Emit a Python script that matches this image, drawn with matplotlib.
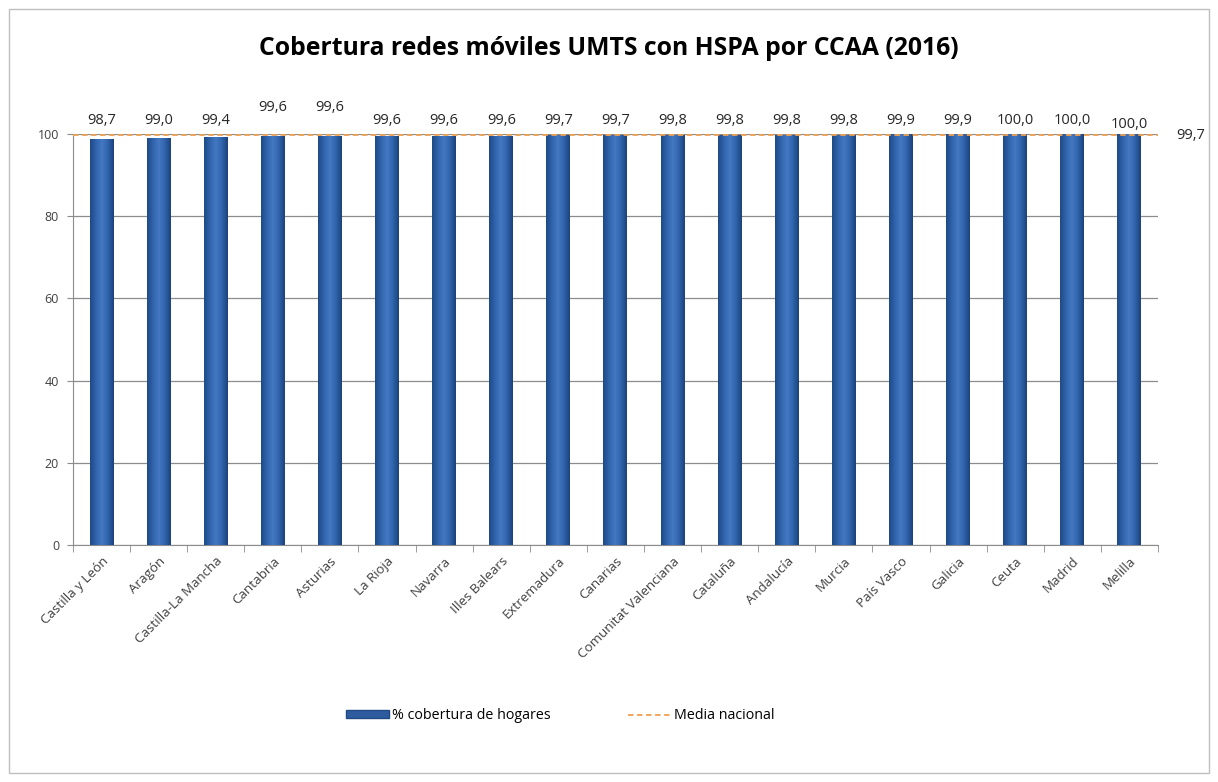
import matplotlib
matplotlib.use("Agg")
import matplotlib.pyplot as plt
import numpy as np
from matplotlib.patches import Rectangle
from matplotlib.lines import Line2D
from matplotlib.colors import LinearSegmentedColormap

plt.rcParams['font.family'] = ['Open Sans', 'DejaVu Sans']

regions = ["Castilla y León", "Aragón", "Castilla-La Mancha", "Cantabria", "Asturias",
           "La Rioja", "Navarra", "Illes Balears", "Extremadura", "Canarias",
           "Comunitat Valenciana", "Cataluña", "Andalucía", "Murcia", "País Vasco",
           "Galicia", "Ceuta", "Madrid", "Melilla"]
coverage = [98.7, 99.0, 99.4, 99.6, 99.6, 99.6, 99.6, 99.6, 99.7, 99.7,
            99.8, 99.8, 99.8, 99.8, 99.9, 99.9, 100.0, 100.0, 100.0]
national_mean = 99.7
yticks = [0, 20, 40, 60, 80, 100]

fig = plt.figure(figsize=(12.18, 7.82), dpi=100)
fig.patch.set_facecolor("white")
fig.add_artist(Rectangle((0.007, 0.012), 0.986, 0.977, transform=fig.transFigure,
                         fill=False, edgecolor="#BFBFBF", linewidth=1.0))

ax = fig.add_axes([0.0599, 0.3031, 0.8908, 0.5255])
x = np.arange(len(regions))

bar_cmap = LinearSegmentedColormap.from_list(
    "cyl", ["#1F4A86", "#3064AC", "#4479C2", "#3064AC", "#1C437C"])
grad = np.linspace(0, 1, 64).reshape(1, -1)

bars = ax.bar(x, coverage, width=0.42, color="#2F5C9E", zorder=3, linewidth=0)
for b in bars:
    im = ax.imshow(grad, cmap=bar_cmap, aspect="auto", zorder=3.5,
                   extent=(b.get_x(), b.get_x() + b.get_width(), 0, b.get_height()))
    im.set_clip_path(b)

ax.axhline(national_mean, color="#F0A050", linestyle=(0, (3, 2)), linewidth=1.3,
           zorder=4, clip_on=False)

ax.set_xlim(-0.5, len(regions) - 0.5)
ax.set_ylim(0, 100)
ax.set_yticks(yticks)
ax.set_yticklabels([str(t) for t in yticks], fontsize=9, color="#404040")
ax.yaxis.grid(True, color="#8C8C8C", linewidth=0.9, zorder=0)
ax.set_axisbelow(True)

ax.set_xticks(x)
ax.set_xticklabels(regions, rotation=45, ha="right", rotation_mode="anchor",
                   fontsize=9.6, color="#404040")
ax.tick_params(axis="x", length=0, pad=7)
ax.set_xticks(np.arange(len(regions) + 1) - 0.5, minor=True)
ax.tick_params(axis="x", which="minor", length=5, color="#8C8C8C", direction="out")
ax.tick_params(axis="y", length=4, color="#8C8C8C", pad=6)

for s in ["top", "right"]:
    ax.spines[s].set_visible(False)
for s in ["left", "bottom"]:
    ax.spines[s].set_color("#8C8C8C")

label_lift = {3: 9, 4: 9, 18: -3}
for i, v in enumerate(coverage):
    ax.annotate(f"{v:.1f}".replace(".", ","), (i, 100), xytext=(0, 4.5 + label_lift.get(i, 0)),
                textcoords="offset points", ha="center", va="bottom", fontsize=10.5,
                color="#262626", annotation_clip=False)

ax.annotate(f"{national_mean:.1f}".replace(".", ","), (1.0, national_mean),
            xycoords=("axes fraction", "data"), xytext=(13, 0), textcoords="offset points",
            ha="left", va="center", fontsize=10.5, color="#262626", annotation_clip=False)

fig.text(0.5, 0.938, "Cobertura redes móviles UMTS con HSPA por CCAA (2016)",
         ha="center", va="center", fontsize=17.8, fontweight="bold", color="#000000")

handles = [Rectangle((0, 0), 1, 1, facecolor="#2F5C9E", edgecolor="#1F4A86"),
           Line2D([0], [0], color="#F0A050", linestyle=(0, (3, 2)), linewidth=1.3)]
fig.legend(handles, ["% cobertura de hogares", "Media nacional"], loc="center",
           bbox_to_anchor=(0.46, 0.085), ncol=2, frameon=False, fontsize=10.3,
           handlelength=3.0, handleheight=0.4, handletextpad=0.2, columnspacing=5.4)

fig.savefig("out.png", dpi=100, facecolor="white")
